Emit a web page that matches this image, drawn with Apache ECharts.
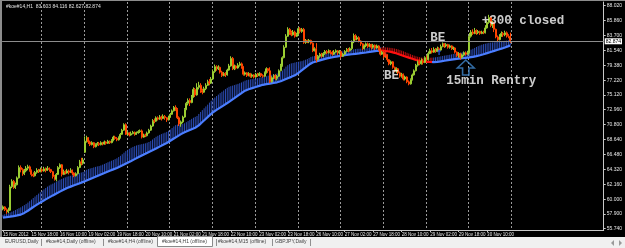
<!DOCTYPE html>
<html><head><meta charset="utf-8">
<script src="https://cdn.jsdelivr.net/npm/echarts@6/dist/echarts.min.js"></script>
<style>html,body{margin:0;padding:0;background:#000;}#c{width:625px;height:248px;}</style>
</head><body><div id="c"></div>
<script>
// ---------- data ----------
const symbolName = '#koe#14,H1';
const tradingDays = ['15 Nov','16 Nov','19 Nov','20 Nov','21 Nov','22 Nov','23 Nov','26 Nov','27 Nov','28 Nov','29 Nov','30 Nov'];
const firstHour = 2;
const xTickLabels = ['15 Nov 2012','15 Nov 18:00','16 Nov 10:00','19 Nov 02:00','19 Nov 18:00','20 Nov 10:00','21 Nov 02:00','21 Nov 18:00','22 Nov 10:00','23 Nov 02:00','23 Nov 18:00','26 Nov 10:00','27 Nov 02:00','27 Nov 18:00','28 Nov 10:00','29 Nov 02:00','29 Nov 18:00','30 Nov 10:00'];
const yTickValues = [88.02,85.86,83.70,81.54,79.38,77.22,75.12,72.96,70.80,68.64,66.48,64.32,62.16,60.00,57.90,55.74];
const tabNames = ['EURUSD,Daily','#koe#14,Daily (offline)','#koe#14,H4 (offline)','#koe#14,H1 (offline)','#koe#14,M15 (offline)','GBPJPY,Daily'];
// [open, close, low, high] hourly
const candles = [
[58.60,58.90,58.40,59.10],[58.90,58.50,58.30,59.00],[58.50,58.20,57.90,58.70],[58.20,58.40,58.00,58.80],[58.40,61.80,58.30,62.10],[61.80,62.60,61.60,62.90],[62.60,61.70,61.50,62.80],[61.70,62.10,61.50,62.40],[62.10,63.10,62.00,63.30],[63.10,64.60,63.00,64.90],
[64.60,64.30,63.90,64.90],[64.30,63.70,63.40,64.50],[63.70,64.10,63.50,64.40],[64.10,64.50,63.90,64.80],[64.50,64.70,64.20,65.00],[64.70,64.20,64.00,64.90],[64.20,63.60,63.30,64.30],[63.60,63.40,63.20,63.90],[63.40,63.90,63.30,64.10],[63.90,64.20,63.70,64.50],
[64.20,64.00,63.80,64.40],[64.00,64.30,63.90,64.60],[64.30,64.10,63.90,64.50],[64.10,64.40,64.00,64.70],[64.40,64.20,63.90,64.60],[64.20,64.50,64.10,64.80],[64.50,64.30,64.00,64.60],[64.30,64.00,63.80,64.40],[64.00,63.30,63.00,64.10],[63.30,62.90,62.70,63.50],
[62.90,63.60,62.60,63.80],[63.60,64.60,63.50,64.80],[64.60,65.00,64.40,65.20],[65.00,63.60,63.30,65.10],[63.60,64.00,63.50,64.30],[64.00,63.80,63.60,64.20],[63.80,64.10,63.70,64.40],[64.10,63.90,63.60,64.30],[63.90,64.20,63.80,64.50],[64.20,63.80,63.50,64.30],
[63.80,63.40,63.20,63.90],[63.40,63.70,63.30,63.90],[63.70,64.60,63.60,64.80],[64.60,65.40,64.50,65.70],[65.40,65.20,64.90,66.00],[65.20,65.70,65.00,66.00],[66.80,68.40,66.70,69.10],[68.40,68.90,68.20,69.20],[68.90,68.30,68.00,69.00],[68.30,67.90,67.70,68.50],
[67.90,68.20,67.80,68.40],[68.20,67.60,67.40,68.30],[67.60,67.90,67.50,68.10],[67.90,68.10,67.80,68.30],[68.10,67.90,67.70,68.30],[67.90,68.20,67.80,68.40],[68.20,68.00,67.80,68.30],[68.00,68.30,67.90,68.50],[68.30,68.10,67.90,68.40],[68.10,68.40,68.00,68.60],
[68.40,68.20,68.00,68.50],[68.20,68.50,68.10,68.70],[68.50,69.00,68.40,69.20],[69.00,68.80,68.60,69.20],[68.80,68.60,68.40,69.00],[68.60,68.90,68.50,69.10],[68.90,69.40,68.80,69.60],[69.40,70.00,69.30,70.20],[70.00,70.80,69.90,71.00],[70.80,69.40,69.30,71.00],
[69.40,69.60,69.20,69.80],[69.60,69.30,69.10,69.70],[69.30,69.50,69.20,69.80],[69.50,69.70,69.40,69.90],[69.70,69.40,69.20,69.80],[69.40,69.60,69.30,69.80],[69.60,69.80,69.50,70.00],[69.80,69.90,69.60,70.10],[69.90,69.00,68.80,70.10],[69.00,69.30,68.90,69.50],
[69.30,69.20,69.00,69.50],[69.20,69.60,69.10,69.80],[69.60,70.00,69.50,70.20],[70.00,70.60,69.90,70.80],[70.60,71.40,70.50,71.60],[71.40,71.30,71.00,71.70],[71.30,71.80,71.20,72.00],[71.80,71.60,71.40,72.00],[71.60,71.90,71.50,72.20],[71.90,71.70,71.40,72.10],
[71.70,72.00,71.60,72.30],[72.00,71.80,71.50,72.20],[71.80,71.50,71.20,71.90],[71.50,71.90,71.40,72.10],[71.90,72.30,71.80,72.50],[72.30,72.80,72.20,73.00],[72.80,73.30,72.70,73.50],[73.30,73.00,72.80,73.60],[73.00,71.80,71.60,73.20],[71.80,70.90,70.60,72.00],
[70.90,71.20,70.50,71.40],[71.20,71.90,71.00,72.10],[71.90,73.00,71.80,73.20],[73.00,73.90,72.90,74.10],[73.90,74.30,73.60,74.60],[74.30,74.00,73.50,74.60],[74.00,74.80,73.90,75.10],[74.80,75.90,74.70,76.20],[75.90,75.10,74.80,76.10],[75.10,76.20,75.00,76.80],
[76.20,76.50,75.90,77.00],[76.50,75.70,75.40,76.80],[75.70,75.50,75.20,76.00],[75.50,76.00,75.40,76.30],[76.00,76.50,75.80,76.80],[76.50,77.00,76.40,77.30],[77.00,76.80,76.50,77.40],[76.80,77.40,76.70,77.70],[77.40,78.50,77.30,78.80],[78.50,79.20,78.30,79.50],
[79.20,78.90,78.60,79.40],[78.90,79.10,78.70,79.40],[79.10,78.40,78.20,79.20],[78.40,77.90,77.70,78.60],[77.90,78.20,77.80,78.40],[78.20,78.00,77.70,78.40],[78.00,78.70,77.90,78.90],[78.70,79.30,78.60,79.60],[79.30,80.40,79.20,80.70],[80.40,78.90,78.70,80.60],
[78.90,79.30,78.70,79.50],[79.30,79.00,78.80,79.40],[79.00,79.40,78.90,79.70],[79.40,79.60,79.20,79.90],[79.60,79.20,78.90,79.80],[79.20,78.10,77.90,79.30],[78.10,78.30,77.90,78.50],[78.30,77.90,77.70,78.40],[77.90,78.20,77.80,78.40],[78.20,77.80,77.60,78.30],
[77.80,78.00,77.60,78.20],[78.00,77.70,77.50,78.10],[77.70,78.10,77.60,78.30],[78.10,77.90,77.70,78.30],[77.90,78.20,77.80,78.40],[78.20,77.90,77.70,78.30],[77.90,77.80,77.60,78.10],[77.80,78.30,77.70,78.50],[78.30,78.90,78.20,79.10],[78.90,78.60,78.30,79.00],
[78.60,77.00,76.80,79.10],[77.00,77.60,76.90,77.80],[77.60,77.90,77.40,78.10],[77.90,77.50,77.30,78.10],[77.50,77.80,77.20,78.00],[77.80,78.60,77.70,78.80],[78.60,79.30,78.50,79.60],[79.30,80.50,79.20,80.70],[80.50,82.00,80.40,82.30],[82.00,83.60,81.90,83.90],
[83.60,84.60,83.50,84.90],[84.60,84.10,83.80,84.80],[84.10,83.80,83.60,84.40],[83.80,84.20,83.70,84.50],[84.20,83.60,83.40,84.40],[83.60,83.90,83.50,84.10],[83.90,84.70,83.70,84.90],[84.70,84.30,84.00,84.90],[84.30,84.60,84.10,84.80],[84.60,82.70,82.50,84.80],
[82.70,83.00,82.50,83.20],[83.00,82.80,82.60,83.10],[82.80,83.00,82.60,83.20],[83.00,82.60,82.40,83.10],[82.60,81.50,81.30,82.70],[81.50,81.80,81.40,82.00],[81.80,80.20,79.80,82.60],[80.20,80.70,80.10,80.90],[80.70,81.00,80.50,81.20],[81.00,80.70,80.50,81.20],
[80.70,81.10,80.60,81.30],[81.10,81.40,80.90,81.60],[81.40,81.20,81.00,81.60],[81.20,81.50,81.10,81.70],[81.50,81.30,81.00,81.60],[81.30,81.00,80.80,81.50],[81.00,81.30,80.90,81.60],[81.30,81.50,81.20,81.70],[81.50,81.20,80.90,81.60],[81.20,81.40,81.00,81.60],
[81.40,80.70,80.40,81.50],[80.70,81.00,80.60,81.20],[81.00,81.40,80.90,81.60],[81.40,81.70,81.30,81.90],[81.70,81.50,81.30,81.90],[81.50,81.80,81.40,82.00],[81.80,82.80,81.60,83.00],[82.80,83.70,82.60,84.00],[83.70,83.20,83.00,83.90],[83.20,83.40,83.00,83.70],
[83.40,82.90,82.70,83.60],[82.90,82.50,82.20,83.00],[82.50,81.80,81.60,82.60],[81.80,82.20,81.70,82.40],[82.20,82.50,82.00,82.70],[82.50,82.10,81.90,82.70],[82.10,82.40,82.00,82.60],[82.40,82.00,81.70,82.50],[82.00,82.30,81.80,82.50],[82.30,81.90,81.60,82.40],
[81.90,82.20,81.80,82.40],[82.20,81.80,81.50,82.30],[81.80,81.00,80.80,81.90],[81.00,81.30,80.90,81.50],[81.30,80.60,80.40,81.40],[80.60,80.90,80.50,81.10],[80.90,80.20,79.90,81.00],[80.20,79.60,79.40,80.30],[79.60,79.90,79.40,80.10],[79.90,79.10,78.90,80.00],
[79.10,78.60,78.40,79.20],[78.60,78.90,78.30,79.10],[78.90,78.30,78.00,79.00],[78.30,77.80,77.60,78.50],[77.80,78.10,77.60,78.30],[78.10,77.40,77.20,78.20],[77.40,77.70,77.20,77.90],[77.70,77.00,76.80,77.80],[77.00,76.70,76.50,77.20],[76.70,77.30,76.60,77.50],
[77.30,78.00,77.20,78.20],[78.00,78.60,77.90,78.80],[78.60,79.40,78.50,79.60],[79.40,79.90,79.20,80.10],[79.90,79.60,79.40,80.20],[79.60,80.00,79.50,80.40],[80.00,79.80,79.50,80.30],[79.80,80.50,79.70,80.70],[80.50,80.20,80.00,80.80],[80.20,81.10,80.10,81.40],
[81.10,81.50,81.00,81.80],[81.50,81.30,81.10,81.90],[81.30,81.70,81.20,82.00],[81.70,81.40,81.20,81.90],[81.40,81.80,81.30,82.10],[81.80,81.60,81.40,82.00],[81.60,82.10,81.50,82.40],[82.10,82.50,82.00,82.70],[82.50,82.20,81.90,82.60],[82.20,82.40,82.00,82.60],
[82.40,82.00,81.80,82.50],[82.00,82.20,81.80,82.40],[82.20,81.80,81.60,82.30],[81.80,81.90,81.60,82.10],[81.90,81.30,81.10,82.00],[81.30,80.80,80.60,81.40],[80.80,81.10,80.50,81.30],[81.10,80.50,80.20,81.20],[80.50,80.90,80.40,81.10],[80.90,81.20,80.70,81.40],
[81.20,81.00,80.80,81.40],[81.00,81.30,80.90,81.50],[81.30,83.60,81.10,84.10],[83.60,84.20,83.40,84.50],[84.20,84.00,83.80,84.60],[84.00,84.40,83.90,84.80],[84.40,84.10,83.80,84.60],[84.10,84.30,83.90,84.50],[84.30,84.00,83.80,84.40],[84.00,84.20,83.90,84.40],
[84.20,84.10,83.90,84.40],[84.10,84.80,84.00,85.20],[84.80,85.60,84.70,85.90],[85.60,86.30,85.40,86.70],[86.30,85.20,84.90,86.50],[85.20,85.50,84.80,85.80],[85.50,84.60,84.20,85.70],[84.60,83.50,83.30,84.70],[83.50,83.10,82.80,83.70],[83.10,83.60,83.00,83.90],
[83.60,84.00,83.50,84.30],[84.00,83.80,83.50,84.20],[83.80,84.10,83.60,84.40],[84.10,83.70,83.40,84.30],[83.70,83.603,83.30,83.90],[83.603,82.874,82.627,84.116]
];
// slow moving average (bright line)
const maSlow = [
57.35,57.38,57.41,57.44,57.48,57.52,57.56,57.61,57.66,57.71,
57.78,57.90,58.03,58.18,58.34,58.52,58.70,58.88,59.05,59.21,
59.37,59.53,59.68,59.83,59.98,60.13,60.27,60.42,60.56,60.70,
60.84,60.98,61.11,61.24,61.37,61.50,61.63,61.73,61.83,61.93,
62.03,62.13,62.22,62.31,62.41,62.50,62.61,62.72,62.83,62.94,
63.05,63.16,63.27,63.38,63.49,63.60,63.71,63.82,63.92,64.03,
64.13,64.23,64.33,64.43,64.53,64.66,64.79,64.92,65.04,65.17,
65.30,65.42,65.55,65.68,65.81,65.94,66.07,66.20,66.33,66.46,
66.58,66.71,66.84,66.97,67.10,67.23,67.36,67.49,67.62,67.76,
67.89,68.02,68.15,68.31,68.47,68.63,68.79,68.95,69.11,69.27,
69.43,69.59,69.70,69.81,69.92,70.03,70.14,70.25,70.35,70.46,
70.70,70.94,71.18,71.42,71.66,71.90,72.14,72.38,72.60,72.77,
72.94,73.10,73.27,73.44,73.60,73.77,73.93,74.08,74.27,74.45,
74.63,74.82,75.00,75.18,75.36,75.54,75.72,75.85,75.93,76.01,
76.09,76.17,76.25,76.33,76.41,76.49,76.57,76.62,76.66,76.71,
76.75,76.80,76.84,76.89,76.93,76.98,77.08,77.19,77.30,77.40,
77.51,77.62,77.72,77.83,77.94,78.12,78.31,78.51,78.70,78.90,
79.10,79.30,79.50,79.70,79.80,79.88,79.95,80.03,80.10,80.18,
80.25,80.32,80.39,80.45,80.50,80.54,80.59,80.63,80.68,80.72,
80.77,80.82,80.86,80.90,80.93,80.96,80.99,81.02,81.05,81.08,
81.11,81.14,81.18,81.21,81.25,81.29,81.33,81.37,81.41,81.45,
81.49,81.52,81.53,81.52,81.50,81.47,81.43,81.38,81.33,81.27,
81.20,81.12,81.03,80.94,80.85,80.76,80.67,80.58,80.50,80.42,
80.33,80.24,80.16,80.09,80.03,79.98,79.94,79.91,79.89,79.88,
79.87,79.86,79.86,79.87,79.89,79.92,79.96,80.00,80.05,80.10,
80.14,80.18,80.22,80.26,80.29,80.32,80.35,80.38,80.41,80.44,
80.47,80.50,80.54,80.58,80.62,80.67,80.72,80.78,80.85,80.92,
81.00,81.08,81.16,81.24,81.32,81.40,81.48,81.56,81.64,81.72,
81.80,81.89,81.98,82.07,82.17,82.27
];
// fast moving average (top of the hatched band)
const maFast = [
57.75,57.83,57.91,57.99,58.08,58.20,58.32,58.45,58.58,58.71,
58.83,59.00,59.15,59.33,59.52,59.72,59.95,60.18,60.40,60.61,
60.82,61.03,61.23,61.43,61.63,61.83,61.99,62.14,62.26,62.40,
62.54,62.70,62.83,62.94,63.05,63.16,63.27,63.33,63.40,63.48,
63.55,63.63,63.70,63.78,63.87,63.95,64.11,64.27,64.38,64.46,
64.53,64.61,64.69,64.76,64.81,64.90,65.01,65.12,65.24,65.36,
65.47,65.58,65.69,65.81,65.93,66.11,66.29,66.52,66.74,66.97,
67.15,67.30,67.45,67.58,67.69,67.79,67.87,67.92,67.98,68.04,
68.10,68.19,68.29,68.45,68.65,68.85,69.04,69.19,69.32,69.44,
69.54,69.64,69.75,69.91,70.09,70.31,70.54,70.73,70.81,70.82,
70.85,70.91,71.00,71.16,71.32,71.48,71.64,71.80,71.93,72.06,
72.35,72.64,72.90,73.17,73.44,73.70,73.99,74.26,74.50,74.72,
74.94,75.15,75.37,75.56,75.75,75.95,76.13,76.28,76.37,76.45,
76.53,76.62,76.70,76.80,76.91,77.04,77.17,77.25,77.31,77.36,
77.39,77.42,77.47,77.53,77.59,77.65,77.72,77.77,77.81,77.89,
77.95,78.02,78.08,78.15,78.21,78.28,78.43,78.64,78.90,79.20,
79.41,79.57,79.67,79.73,79.79,79.87,79.91,79.96,80.00,80.10,
80.20,80.30,80.45,80.60,80.68,80.73,80.77,80.83,80.88,80.94,
80.99,81.04,81.10,81.15,81.20,81.22,81.25,81.27,81.30,81.32,
81.37,81.42,81.46,81.50,81.53,81.58,81.64,81.70,81.75,81.78,
81.79,81.80,81.82,81.83,81.85,81.89,81.93,81.97,81.99,82.01,
82.03,82.04,82.03,82.02,82.00,81.99,81.97,81.94,81.91,81.87,
81.82,81.76,81.69,81.60,81.51,81.42,81.31,81.20,81.10,81.00,
80.89,80.79,80.70,80.63,80.57,80.53,80.50,80.48,80.47,80.48,
80.49,80.50,80.52,80.55,80.59,80.64,80.69,80.74,80.79,80.84,
80.88,80.92,80.97,81.02,81.07,81.12,81.17,81.22,81.27,81.32,
81.37,81.45,81.54,81.66,81.78,81.91,82.04,82.16,82.27,82.37,
82.45,82.52,82.58,82.64,82.68,82.70,82.73,82.76,82.79,82.82,
82.85,82.89,82.93,82.97,83.02,83.07
];
// text notes placed on the chart: [bar index, price, text]
const notes = [[269, 85.81, '+300 closed'], [240, 83.34, 'BE'], [214, 77.92, 'BE'], [249, 77.12, '15min Rentry']];
// trade arrows: [bar index, price]
const sellArrows = [[215, 81.03]];
const buyArrows = [[245, 81.32]];
const entryArrow = [[260, 79.07]];

// ---------- build ----------
const categories = [];
tradingDays.forEach((d, k) => {
  for (let h = (k === 0 ? firstHour : 0); h < 24; h++) categories.push(d + ' ' + String(h).padStart(2, '0') + ':00');
});
const nData = categories.length;
const totalSlots = 338;
for (let k = categories.length; k < totalSlots; k++) categories.push('pad' + k);
const labelEvery = 16;
const dayStarts = [];
categories.forEach((c, i) => { if (i < nData && c.endsWith(' 00:00')) dayStarts.push(i); });
dayStarts.push(nData);

const hatchData = maSlow.map((v, i) => [i, v, maFast[i], (i > 0 && v < maSlow[i - 1]) ? 1 : 0]);
const redPieces = [];
for (let i = 1; i < maSlow.length; i++) {
  if (maSlow[i] < maSlow[i - 1]) {
    const lastP = redPieces[redPieces.length - 1];
    if (lastP && lastP.lte === i - 1) lastP.lte = i; else redPieces.push({gte: i - 1, lte: i});
  }
}
const pieces = [];
let cur = 0;
redPieces.forEach(p => { pieces.push({gte: cur, lt: p.gte, color: '#4a7dff'}); pieces.push({gte: p.gte, lte: p.lte, color: '#ff1010'}); cur = p.lte; });
pieces.push({gt: cur, lte: totalSlots, color: '#4a7dff'});

const last = candles[candles.length - 1];
const lastClose = last[1];
const infoText = symbolName + '  ' + last[0].toFixed(3) + ' ' + last[3].toFixed(3) + ' ' + last[2].toFixed(3) + ' ' + last[1].toFixed(3);

const chart = echarts.init(document.getElementById('c'), null, {renderer: 'canvas'});
const axisColor = '#c8c8c8';
const tinyFont = 'Liberation Sans';

// tab bar graphics
const tabX = [5, 46, 108, 162, 218, 275];
const sepX = [41, 103, 216, 272, 310];
const tabGraphics = [
  {type: 'rect', shape: {x: 0, y: 237, width: 625, height: 11}, style: {fill: '#f0f0f0'}, z: 100},
  {type: 'rect', shape: {x: 157.5, y: 236.5, width: 55, height: 10}, style: {fill: '#ffffff', stroke: '#8a8a8a', lineWidth: 1}, z: 101},
  {type: 'polygon', shape: {points: [[614, 240], [614, 246], [611, 243]]}, style: {fill: '#9a9a9a'}, z: 101},
  {type: 'polygon', shape: {points: [[619, 240], [619, 246], [622, 243]]}, style: {fill: '#9a9a9a'}, z: 101}
];
tabNames.forEach((t, k) => tabGraphics.push({type: 'text', x: tabX[k], y: 239.5, style: {text: t, fill: '#444', font: '5px ' + tinyFont}, z: 102}));
sepX.forEach(x => tabGraphics.push({type: 'line', shape: {x1: x + 0.5, y1: 239, x2: x + 0.5, y2: 246}, style: {stroke: '#909090', lineWidth: 1}, z: 101}));

const option = {
  animation: false,
  backgroundColor: '#000000',
  grid: {left: 1.7, right: 19, top: 2, bottom: 18, containLabel: false},
  visualMap: {type: 'piecewise', show: false, dimension: 0, seriesIndex: 2, pieces: pieces},
  xAxis: {
    type: 'category', data: categories, boundaryGap: true,
    axisLine: {show: true, lineStyle: {color: axisColor, width: 1}},
    axisTick: {show: true, alignWithLabel: true, length: 2, inside: false, interval: (i) => i < nData && i % labelEvery === 0, lineStyle: {color: axisColor}},
    axisLabel: {
      show: true, interval: (i) => i < nData && i % labelEvery === 0, showMinLabel: true,
      formatter: (v, i) => xTickLabels[Math.round(i / labelEvery)] || '',
      color: '#e6e6e6', fontSize: 4.5, fontFamily: tinyFont, align: 'left', margin: 2, hideOverlap: false
    },
    splitLine: {show: false}
  },
  yAxis: {
    type: 'value', position: 'right', min: 55.553, max: 88.556, scale: true,
    axisLine: {show: true, lineStyle: {color: axisColor, width: 1}},
    axisTick: {show: true, length: 2, customValues: yTickValues, lineStyle: {color: axisColor}},
    axisLabel: {show: true, customValues: yTickValues, formatter: v => v.toFixed(3), color: '#e6e6e6', fontSize: 5, fontFamily: tinyFont, margin: 3},
    splitLine: {show: false}
  },
  graphic: [
    {type: 'rect', shape: {x: 0, y: 0, width: 2, height: 237}, style: {fill: '#8c8c8c'}, z: 100},
    {type: 'rect', shape: {x: 0, y: 0, width: 625, height: 1}, style: {fill: '#8c8c8c'}, z: 100},
    {type: 'text', x: 6, y: 4, style: {text: infoText, fill: '#e0e0e0', font: '5px ' + tinyFont}, z: 100},
    ...tabGraphics
  ],
  series: [
    {
      type: 'custom', name: 'daySeparators', z: 0, silent: true,
      data: dayStarts.map(i => [i, 70]),
      renderItem: (params, api) => {
        const cs = params.coordSys;
        const half = api.size([1, 0])[0] / 2;
        const x = Math.round(api.coord([api.value(0), api.value(1)])[0] - half) + 0.5;
        return {type: 'line', shape: {x1: x, y1: cs.y, x2: x, y2: cs.y + cs.height}, style: {stroke: '#9a9a9a', lineWidth: 1, lineDash: [2, 2]}};
      }
    },
    {
      type: 'custom', name: 'band', z: 1, clip: true, silent: true,
      data: hatchData,
      renderItem: (params, api) => {
        const i = api.value(0);
        const a = api.coord([i, api.value(1)]);
        const b = api.coord([i, api.value(2)]);
        const red = api.value(3) === 1;
        return {type: 'line', shape: {x1: a[0], y1: a[1], x2: b[0], y2: b[1]}, style: {stroke: red ? '#c41010' : '#2c4cb4', lineWidth: 1}};
      }
    },
    {
      type: 'line', name: 'ma', z: 2, data: maSlow, symbol: 'none', smooth: false,
      lineStyle: {width: 2.2}
    },
    {
      type: 'candlestick', name: symbolName, z: 3, data: candles, barWidth: 1.5,
      itemStyle: {color: '#556B2F', color0: '#8B1A00', borderColor: '#9ACD32', borderColor0: '#FF4500', borderWidth: 1},
      markLine: {
        silent: true, symbol: ['none', 'none'], animation: false,
        data: [{yAxis: lastClose}],
        lineStyle: {color: '#8c8c8c', type: 'solid', width: 1},
        label: {show: true, position: 'end', distance: 1, formatter: () => lastClose.toFixed(3), color: '#000', backgroundColor: '#ffffff', fontSize: 5, fontFamily: tinyFont, padding: [1, 1, 0, 1]}
      }
    },
    {
      type: 'scatter', name: 'notes', z: 10, data: notes.map(n => ({value: [n[0], n[1]], name: n[2]})),
      symbolSize: 0,
      label: {show: true, position: 'right', distance: 0, formatter: p => p.name, color: '#ffffff', fontFamily: 'Liberation Mono', fontWeight: 'bold', fontSize: 12.5}
    },
    {
      type: 'scatter', name: 'sell', z: 9, data: sellArrows, symbol: 'path://M2,0 L4,0 L4,5 L6,5 L3,9 L0,5 L2,5 Z', symbolSize: [4, 6],
      itemStyle: {color: '#ff2020'}
    },
    {
      type: 'scatter', name: 'buy', z: 9, data: buyArrows, symbol: 'path://M3,0 L6,4 L4,4 L4,9 L2,9 L2,4 L0,4 Z', symbolSize: [4, 6],
      itemStyle: {color: '#2060ff'}
    },
    {
      type: 'scatter', name: 'entry', z: 9, data: entryArrow, symbol: 'path://M8,0 L16,8 L11,8 L11,15 L5,15 L5,8 L0,8 Z', symbolSize: [17, 15],
      itemStyle: {color: 'rgba(0,0,0,0)', borderColor: '#3f86cc', borderWidth: 1.5}
    }
  ]
};
chart.setOption(option);
</script>
</body></html>
